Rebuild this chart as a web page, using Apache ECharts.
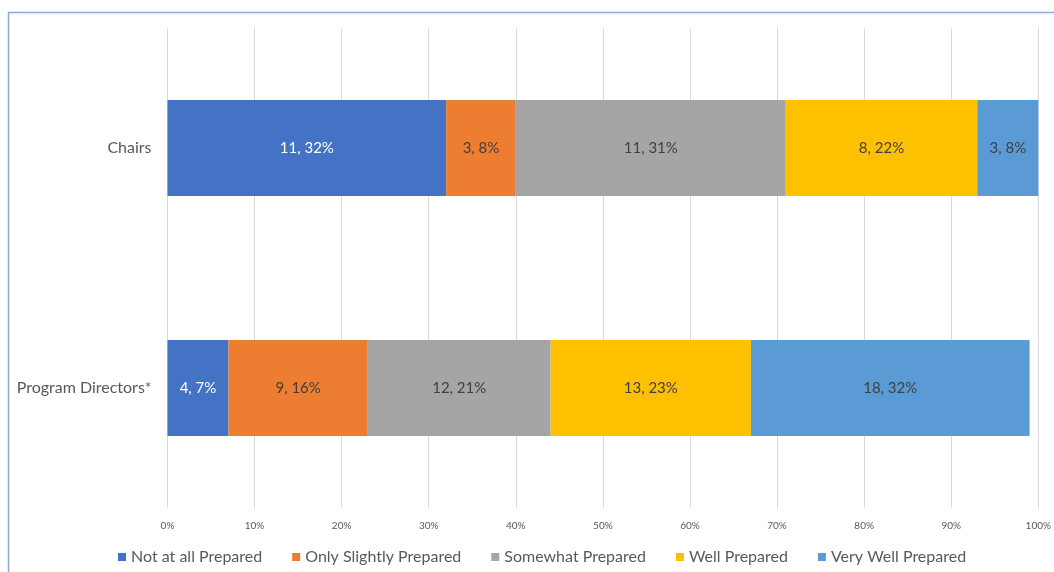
<!DOCTYPE html>
<html>
<head>
<meta charset="utf-8">
<script src="https://cdn.jsdelivr.net/npm/echarts@6/dist/echarts.min.js"></script>
<style>
html,body{margin:0;padding:0;background:#fff;}
#chart{width:1054px;height:572px;}
</style>
</head>
<body>
<div id="chart"></div>
<script>
const categories = ['Chairs', 'Program Directors*'];
const seriesNames = ['Not at all Prepared', 'Only Slightly Prepared', 'Somewhat Prepared', 'Well Prepared', 'Very Well Prepared'];
const notAtAllPct = [32, 7];
const onlySlightlyPct = [8, 16];
const somewhatPct = [31, 21];
const wellPct = [22, 23];
const veryWellPct = [8, 32];
const notAtAllN = [11, 4];
const onlySlightlyN = [3, 9];
const somewhatN = [11, 12];
const wellN = [8, 13];
const veryWellN = [3, 18];
const xTicks = [0, 10, 20, 30, 40, 50, 60, 70, 80, 90, 100];
const colors = ['#4472C4', '#ED7D31', '#A5A5A5', '#FFC000', '#5B9BD5'];
const labelColors = ['#FFFFFF', '#404040', '#404040', '#404040', '#404040'];

const pcts = [notAtAllPct, onlySlightlyPct, somewhatPct, wellPct, veryWellPct];
const counts = [notAtAllN, onlySlightlyN, somewhatN, wellN, veryWellN];
const FONT = 'Lato, "Open Sans", sans-serif';

const chart = echarts.init(document.getElementById('chart'));
chart.setOption({
  animation: false,
  color: colors,
  graphic: [{
    type: 'rect',
    shape: { x: 8.5, y: 12.5, width: 1200, height: 700 },
    style: { fill: 'none', stroke: '#8EA9DB', lineWidth: 1.5 },
    silent: true
  }],
  grid: { left: 167.5, right: 15.5, top: 28, bottom: 64 },
  legend: {
    bottom: 2,
    left: 113,
    icon: 'rect',
    itemWidth: 8,
    itemHeight: 8,
    itemGap: 30,
    textStyle: { color: '#595959', fontSize: 16, fontFamily: FONT },
    data: seriesNames
  },
  xAxis: {
    type: 'value',
    min: xTicks[0],
    max: xTicks[xTicks.length - 1],
    interval: 10,
    axisLine: { show: false },
    axisTick: { show: false },
    splitLine: { lineStyle: { color: '#D9D9D9', width: 1 } },
    axisLabel: { formatter: '{value}%', color: '#595959', fontSize: 10, fontFamily: FONT, margin: 13 }
  },
  yAxis: {
    type: 'category',
    data: categories,
    inverse: true,
    axisLine: { show: false },
    axisTick: { show: false },
    splitLine: { show: false },
    axisLabel: { color: '#595959', fontSize: 16, fontFamily: FONT, margin: 16 }
  },
  series: seriesNames.map((name, i) => ({
    name: name,
    type: 'bar',
    stack: 'total',
    barWidth: '40%',
    data: pcts[i],
    itemStyle: { color: colors[i] },
    label: {
      show: true,
      position: 'inside',
      color: labelColors[i],
      fontSize: 15,
      fontFamily: FONT,
      formatter: p => counts[i][p.dataIndex] + ', ' + p.value + '%'
    }
  }))
});
</script>
</body>
</html>
